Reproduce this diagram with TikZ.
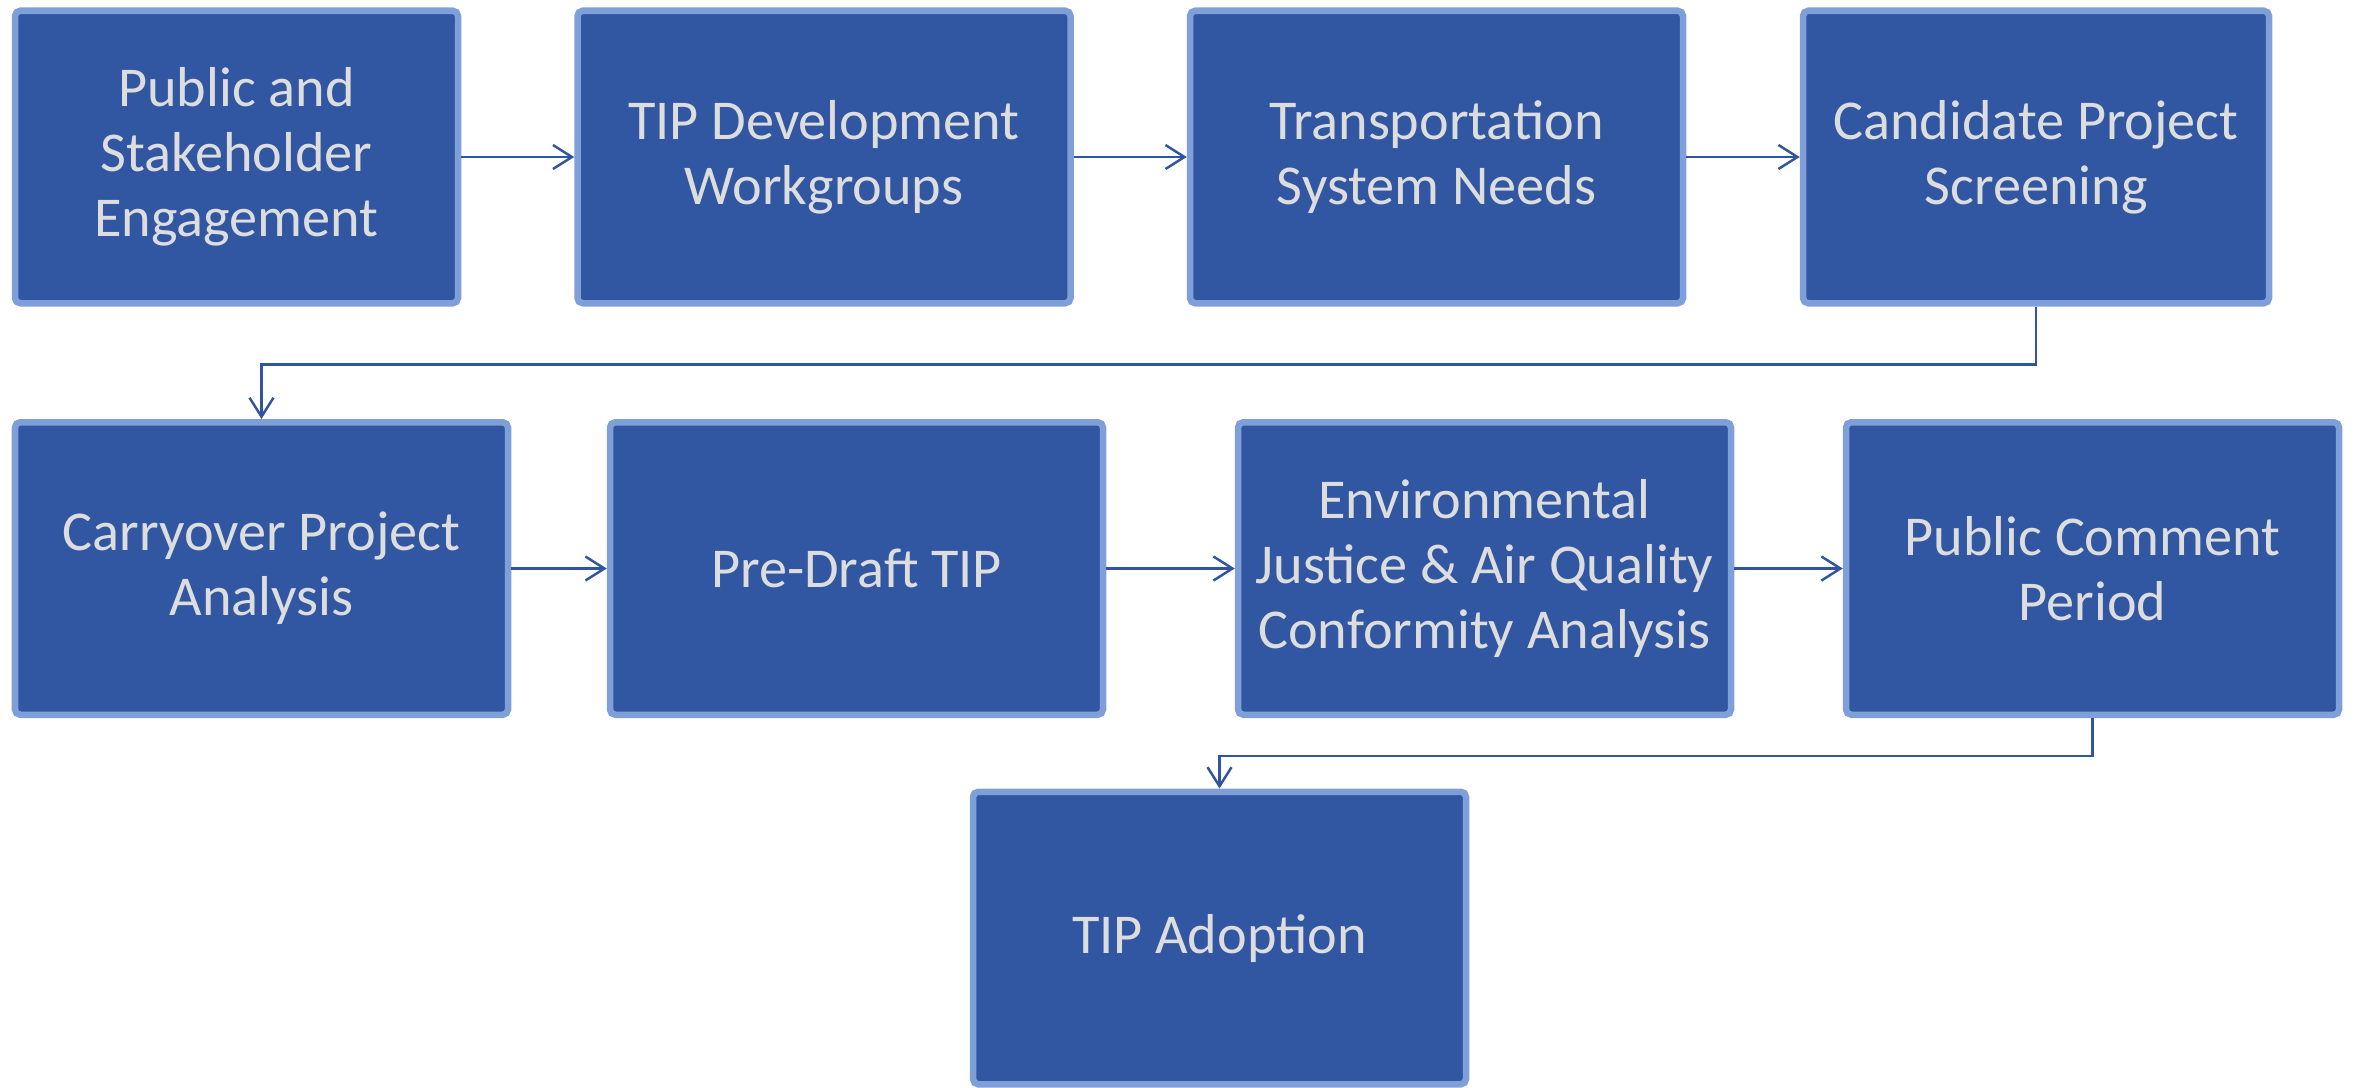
\documentclass[tikz,border=0pt]{standalone}
\usepackage{fontspec}
\setmainfont{Carlito}
\usepackage{tikz}
\usetikzlibrary{arrows.meta}
\definecolor{boxfill}{HTML}{3157A3}
\definecolor{boxline}{HTML}{7F9FD8}
\definecolor{boxtext}{HTML}{DDDDDD}
\definecolor{flow}{HTML}{2F54A0}

\begin{document}
\begin{tikzpicture}[
    stage/.style={draw=boxline,fill=boxfill,line width=1.85pt,rounded corners=1.5pt,
      minimum width=4.93cm,minimum height=2.925cm,align=center,text=boxtext,
      font=\fontsize{16}{18.5}\selectfont},
    flowline/.style={draw=flow,line width=0.7pt,-{Straight Barb[length=1.9mm,width=2.4mm]}}
  ]
  \useasboundingbox (0,0) rectangle (23.56,10.87);
  % first row
  \node[stage,minimum width=4.43cm] (engage) at (2.365,9.30) {Public and\\Stakeholder\\Engagement};
  \node[stage] (workgroups) at (8.24,9.30) {TIP Development\\Workgroups};
  \node[stage] (needs) at (14.365,9.30) {Transportation\\System Needs};
  \node[stage,minimum width=4.66cm] (screening) at (20.36,9.30) {Candidate Project\\Screening};
  % second row
  \node[stage] (carryover) at (2.615,5.185) {Carryover Project\\Analysis};
  \node[stage] (predraft) at (8.565,5.185) {Pre-Draft TIP};
  \node[stage] (ejaq) at (14.845,5.185) {Environmental\\Justice \& Air Quality\\Conformity Analysis};
  \node[stage] (comment) at (20.925,5.185) {Public Comment\\Period};
  % last step
  \node[stage] (adoption) at (12.195,1.49) {TIP Adoption};

  \draw[flowline] (engage) -- (workgroups);
  \draw[flowline] (workgroups) -- (needs);
  \draw[flowline] (needs) -- (screening);
  \draw[flowline] (screening.south) -- ++(0,-0.58) -| (carryover.north);
  \draw[flowline] (carryover) -- (predraft);
  \draw[flowline] (predraft) -- (ejaq);
  \draw[flowline] (ejaq) -- (comment);
  \draw[flowline] (comment.south) -- ++(0,-0.38) -| (adoption.north);
\end{tikzpicture}
\end{document}
